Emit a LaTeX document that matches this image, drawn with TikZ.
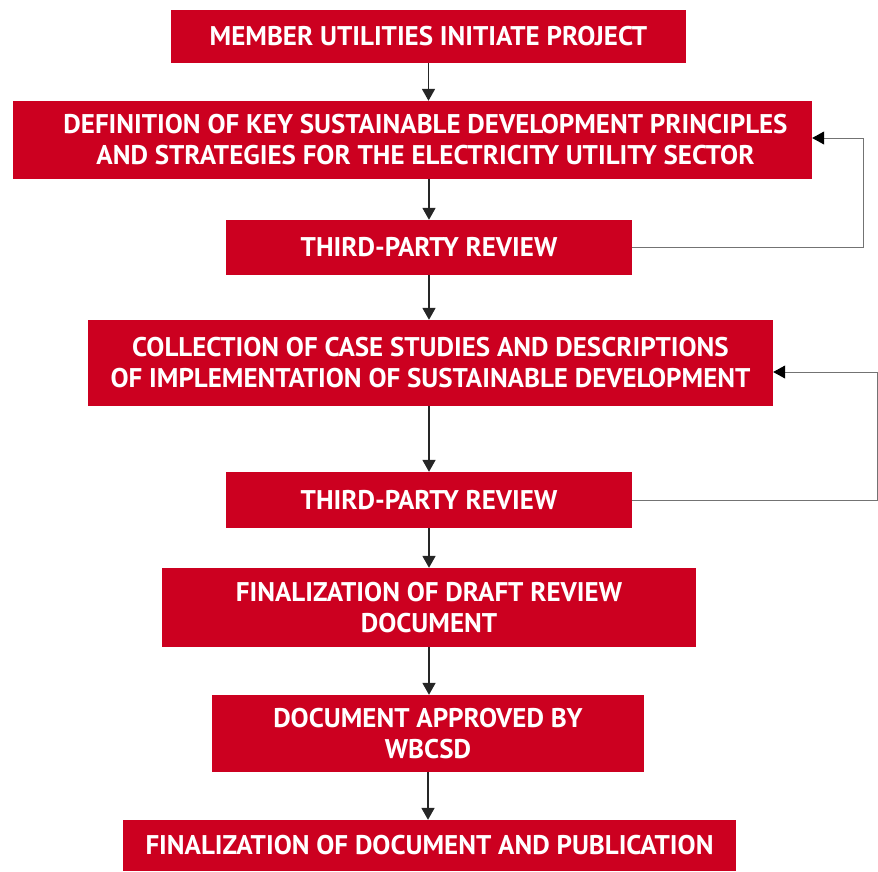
\documentclass[tikz,border=0pt]{standalone}
\usepackage{fontspec}
\setmainfont{PT Sans}
\usetikzlibrary{positioning,arrows.meta}
\definecolor{wbred}{RGB}{204,0,32}

\begin{document}
\begin{tikzpicture}[x=1pt,y=-1pt,
  stage/.style={fill=wbred,text=white,align=center,inner sep=0pt,
    font=\fontsize{27}{31}\selectfont\bfseries},
  stagetext/.style={text=white,align=center,inner sep=0pt,
    font=\fontsize{27}{31}\selectfont\bfseries},
  flow/.style={-{Triangle[length=12pt,width=13pt]},line width=1.8pt,black!85},
  loopback/.style={-{Triangle[length=12pt,width=13pt,black]},line width=0.9pt,black!55}]
\useasboundingbox (0,0) rectangle (878,871);
\path node[stage,minimum width=515pt,minimum height=53pt] (start) at (428.5,36.5)
    {MEMBER UTILITIES INITIATE PROJECT}
  node[stage,minimum width=799pt,minimum height=78pt,
    label={[stagetext,xshift=13pt]center:DEFINITION OF KEY SUSTAINABLE DEVELOPMENT PRINCIPLES\\
      AND STRATEGIES FOR THE ELECTRICITY UTILITY SECTOR}] (def) at (412.5,140) {}
  node[stage,minimum width=406pt,minimum height=55pt] (rev1) at (429,247.5)
    {THIRD-PARTY REVIEW}
  node[stage,minimum width=685pt,minimum height=86pt] (coll) at (430.5,363)
    {COLLECTION OF CASE STUDIES AND DESCRIPTIONS\\
     OF IMPLEMENTATION OF SUSTAINABLE DEVELOPMENT}
  node[stage,minimum width=406pt,minimum height=56pt] (rev2) at (429,500)
    {THIRD-PARTY REVIEW}
  node[stage,minimum width=534pt,minimum height=79pt] (draft) at (429,607.5)
    {FINALIZATION OF DRAFT REVIEW\\ DOCUMENT}
  node[stage,minimum width=432pt,minimum height=77pt] (approved) at (428,733.5)
    {DOCUMENT APPROVED BY\\ WBCSD}
  node[stage,minimum width=613pt,minimum height=51pt] (publish) at (429.5,845.5)
    {FINALIZATION OF DOCUMENT AND PUBLICATION};
% main flow
\draw[flow] (start.south) -- (start.south |- def.north);
\draw[flow] (rev1.north |- def.south) -- (rev1.north);
\draw[flow] (rev1.south) -- (rev1.south |- coll.north);
\draw[flow] (rev2.north |- coll.south) -- (rev2.north);
\draw[flow] (rev2.south) -- (rev2.south |- draft.north);
\draw[flow] (draft.south) -- (draft.south |- approved.north);
\draw[flow] (approved.south) -- (approved.south |- publish.north);
% reviews feed back
\draw[loopback] (rev1.east) -- ++(231,0) |- ([yshift=2pt]def.east);
\draw[loopback] (rev2.east) -- ++(245,0) |- ([yshift=-9pt]coll.east);
\end{tikzpicture}
\end{document}
